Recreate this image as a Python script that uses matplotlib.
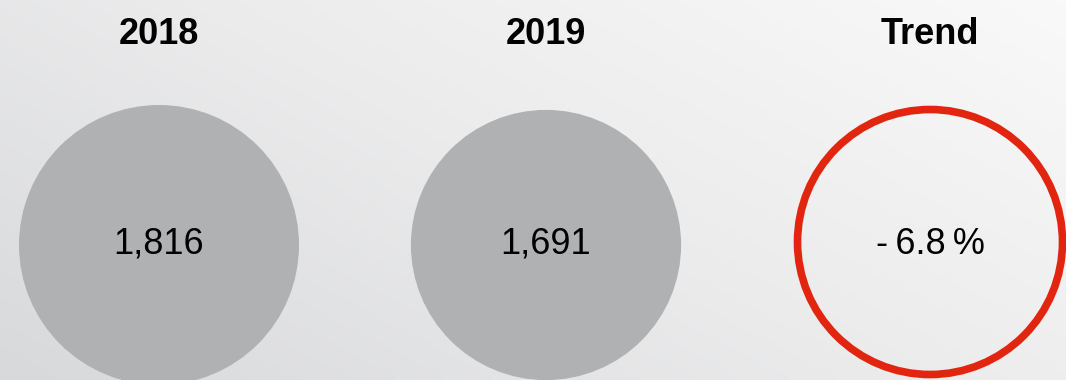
import numpy as np
import matplotlib.pyplot as plt
from matplotlib.patches import Circle
from matplotlib.colors import LinearSegmentedColormap

# Dados do gráfico
titles = ["2018", "2019", "Trend"]
values = [1816, 1691]
trend = -6.8  # valor como mostrado no original
labels = [f"{values[0]:,}", f"{values[1]:,}", f"-\u2009{abs(trend):.1f}\u2009%"]

plt.rcParams['font.family'] = ['Liberation Sans', 'DejaVu Sans']

fig = plt.figure(figsize=(10.66, 3.8), dpi=100)
ax = fig.add_axes([0, 0, 1, 1])
ax.set_xlim(0, 1066)
ax.set_ylim(380, 0)
ax.axis('off')

# Fundo em degradê (cinza embaixo à esquerda, quase branco em cima à direita)
xx, yy = np.meshgrid(np.linspace(0, 1, 200), np.linspace(0, 1, 80))
grad = 0.6 * xx + 0.4 * (1 - yy)
cmap = LinearSegmentedColormap.from_list("bg", ["#d8d9db", "#ebebec", "#f9f9f9"])
ax.imshow(grad, cmap=cmap, extent=[0, 1066, 380, 0], aspect='auto', zorder=0)

# Círculos (raio proporcional à raiz do valor)
centers_x = [159, 546, 930]
cy = 245
r_max = 140
for i, v in enumerate(values):
    r = r_max * np.sqrt(v / max(values))
    ax.add_patch(Circle((centers_x[i], cy), r,
                        facecolor="#b0b1b3", edgecolor="none", zorder=2))
ax.add_patch(Circle((centers_x[2], cy - 3), 132.5, facecolor="none",
                    edgecolor="#e2250f", linewidth=5.5, zorder=2))

for i in range(3):
    ax.text(centers_x[i], 44, titles[i], ha='center', va='baseline',
            fontsize=26, fontweight='bold', color='black', zorder=3)
    ax.text(centers_x[i], 254, labels[i], ha='center', va='baseline',
            fontsize=26, color='black', zorder=3)

fig.savefig("out.png", dpi=100)
